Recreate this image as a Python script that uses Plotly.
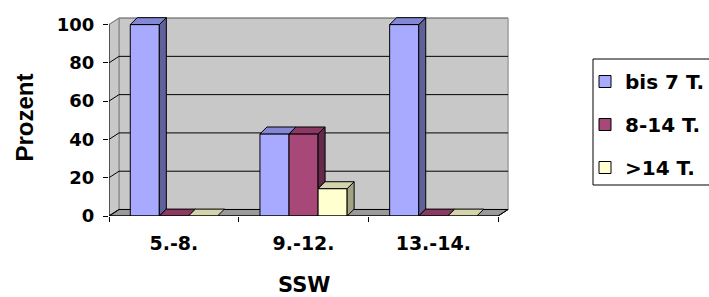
import plotly.graph_objects as go

# ---------------- data ----------------
categories = ["5.-8.", "9.-12.", "13.-14."]
series_names = ["bis 7 T.", "8-14 T.", ">14 T."]
bis7 = [100.0, 42.9, 100.0]
t8_14 = [0.0, 42.9, 0.0]
gt14 = [0.0, 14.3, 0.0]
y_ticks = [0, 20, 40, 60, 80, 100]
x_title = "SSW"
y_title = "Prozent"

# ---------------- styles ----------------
series = [bis7, t8_14, gt14]
front_colors = ["#a8aaff", "#a84878", "#ffffd0"]
top_colors = ["#8487d6", "#8a3a62", "#d4d4ac"]
side_colors = ["#5f6199", "#632a4c", "#a3a384"]
wall_color = "#c8c8c8"
floor_color = "#9a9a9a"

BAR_W = 0.224
OFFSETS = [-0.336, -0.112, 0.112]
BDX, BDY = 0.054, 3.6      # bar depth (data units)
WDX, WDY = 0.077, 3.4      # wall depth (data units)
X0 = -0.5
XN = len(categories) - 0.5
YMAX = max(y_ticks)
X_RANGE = [X0, X0 + 401 / 129.7]
Y_RANGE = [0, 105]

TICK_FONT = dict(family="DejaVu Sans", size=18, color="black", weight="bold")
CAT_FONT = dict(family="DejaVu Sans", size=19, color="black", weight="bold")

fig = go.Figure()
xs = list(range(len(categories)))

# ---- front faces (real bars) ----
for s, (name, vals) in enumerate(zip(series_names, series)):
    fig.add_trace(go.Bar(
        x=xs, y=vals, width=BAR_W, offset=OFFSETS[s], name=name,
        marker=dict(color=front_colors[s], line=dict(color="black", width=1)),
        legendgroup=name, hoverinfo="x+y+name",
    ))

# ---- top and side faces, computed from the values ----
for s, vals in enumerate(series):
    tx, ty, sx, sy = [], [], [], []
    for i, h in enumerate(vals):
        xl = xs[i] + OFFSETS[s]
        xr = xl + BAR_W
        tx += [xl, xr, xr + BDX, xl + BDX, xl, None]
        ty += [h, h, h + BDY, h + BDY, h, None]
        # part of side hidden by the neighbouring bar on the right
        hb = 0.0
        if s + 1 < len(series):
            hb = series[s + 1][i]
        if hb < h:
            sx += [xr, xr + BDX, xr + BDX, xr, xr, None]
            sy += [hb, hb + BDY, h + BDY, h, hb, None]
    fig.add_trace(go.Scatter(x=sx, y=sy, fill="toself", mode="lines",
                             fillcolor=side_colors[s], line=dict(color="black", width=1),
                             showlegend=False, hoverinfo="skip"))
    fig.add_trace(go.Scatter(x=tx, y=ty, fill="toself", mode="lines",
                             fillcolor=top_colors[s], line=dict(color="black", width=1),
                             showlegend=False, hoverinfo="skip"))

# ---- axis lines (front) ----
fig.add_trace(go.Scatter(x=[X0, X0], y=[0, YMAX], mode="lines",
                         line=dict(color="black", width=1), cliponaxis=False,
                         showlegend=False, hoverinfo="skip"))
fig.add_trace(go.Scatter(x=[X0, XN, XN + WDX], y=[0, 0, WDY], mode="lines",
                         line=dict(color="black", width=1), cliponaxis=False,
                         showlegend=False, hoverinfo="skip"))

# ---- walls, floor, gridlines (behind everything) ----
shapes = []
def poly(pts, fill, line_color, width=1):
    d = "M " + " L ".join(f"{x},{y}" for x, y in pts) + " Z"
    return dict(type="path", path=d, xref="x", yref="y", layer="below",
                fillcolor=fill, line=dict(color=line_color, width=width))

shapes.append(poly([(X0 + WDX, WDY), (XN + WDX, WDY), (XN + WDX, YMAX + WDY), (X0 + WDX, YMAX + WDY)],
                   wall_color, "#808080"))
shapes.append(poly([(X0, 0), (X0 + WDX, WDY), (X0 + WDX, YMAX + WDY), (X0, YMAX)],
                   wall_color, "#808080"))
shapes.append(poly([(X0, 0), (XN, 0), (XN + WDX, WDY), (X0 + WDX, WDY)],
                   floor_color, "#000000"))
for v in y_ticks:
    col = "#000000" if v < YMAX else "#808080"
    shapes.append(dict(type="line", xref="x", yref="y", layer="below",
                       x0=X0 + WDX, y0=v + WDY, x1=XN + WDX, y1=v + WDY,
                       line=dict(color=col, width=1)))
    shapes.append(dict(type="line", xref="x", yref="y", layer="below",
                       x0=X0, y0=v, x1=X0 + WDX, y1=v + WDY,
                       line=dict(color=col, width=1)))
# legend frame
shapes.append(dict(type="rect", xref="paper", yref="paper",
                   x0=(593 - 109) / 401, x1=(730 - 109) / 401,
                   y0=(216 - 185) / 201, y1=(216 - 59) / 201,
                   line=dict(color="black", width=1), fillcolor="rgba(0,0,0,0)"))

fig.update_layout(
    width=709, height=297,
    margin=dict(l=109, r=199, t=15, b=81, autoexpand=False),
    paper_bgcolor="white", plot_bgcolor="white",
    barmode="overlay",
    shapes=shapes,
    showlegend=True,
    legend=dict(xref="container", yref="container", x=585 / 709, y=1 - 62 / 297,
                xanchor="left", yanchor="top", bgcolor="rgba(0,0,0,0)", borderwidth=0,
                traceorder="grouped", tracegroupgap=14,
                font=dict(family="DejaVu Sans", size=20, color="black", weight="bold")),
    xaxis=dict(range=X_RANGE, tickvals=xs, ticktext=categories, ticks="",
               showgrid=False, zeroline=False, showline=False, tickfont=CAT_FONT,
               ticklabelstandoff=14,
               minor=dict(tickvals=[X0 + k for k in range(len(categories) + 1)],
                          ticks="outside", ticklen=5, tickcolor="black", tickwidth=1,
                          showgrid=False)),
    yaxis=dict(range=Y_RANGE, tickvals=y_ticks, ticks="outside", ticklen=5,
               tickcolor="black", showgrid=False, zeroline=False, showline=False,
               tickfont=TICK_FONT, ticklabelstandoff=5),
    annotations=[
        dict(text=x_title, xref="x", yref="paper", x=(len(categories) - 1) / 2,
             y=(216 - 285) / 201, xanchor="center", yanchor="middle", showarrow=False,
             font=dict(family="DejaVu Sans", size=21, color="black", weight="bold")),
        dict(text=y_title, xref="paper", yref="paper", x=(24 - 109) / 401,
             y=(216 - 117.5) / 201, xanchor="center", yanchor="middle", showarrow=False,
             textangle=-90,
             font=dict(family="Liberation Sans", size=24, color="black", weight="bold")),
    ],
)

fig.write_html("out.html", config={"displayModeBar": False},
               post_script="document.body.style.margin='0';document.body.style.overflow='hidden';")
